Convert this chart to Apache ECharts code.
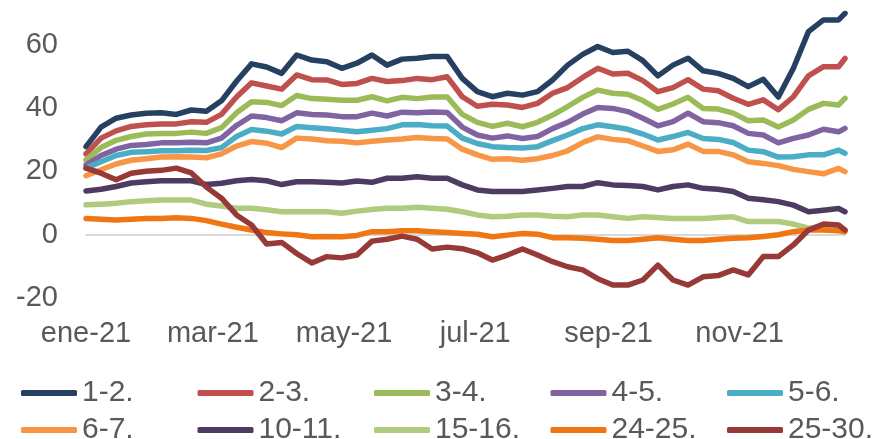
<!DOCTYPE html>
<html>
<head>
<meta charset="utf-8">
<script src="https://cdn.jsdelivr.net/npm/echarts@6/dist/echarts.min.js"></script>
<style>
html,body{margin:0;padding:0;background:#fff;}
#chart{width:879px;height:439px;}
</style>
</head>
<body>
<div id="chart"></div>
<script>
// Weekly observation dates (2021)
const dates = [
 '2021-01-01','2021-01-08','2021-01-15','2021-01-22','2021-01-29',
 '2021-02-05','2021-02-12','2021-02-19','2021-02-26',
 '2021-03-05','2021-03-12','2021-03-19','2021-03-26',
 '2021-04-02','2021-04-09','2021-04-16','2021-04-23','2021-04-30',
 '2021-05-07','2021-05-14','2021-05-21','2021-05-28',
 '2021-06-04','2021-06-11','2021-06-18','2021-06-25',
 '2021-07-02','2021-07-09','2021-07-16','2021-07-23','2021-07-30',
 '2021-08-06','2021-08-13','2021-08-20','2021-08-27',
 '2021-09-03','2021-09-10','2021-09-17','2021-09-24',
 '2021-10-01','2021-10-08','2021-10-15','2021-10-22','2021-10-29',
 '2021-11-05','2021-11-12','2021-11-19','2021-11-26',
 '2021-12-03','2021-12-10','2021-12-17','2021-12-20'
];

const seriesNames = ['1-2.','2-3.','3-4.','4-5.','5-6.','6-7.','10-11.','15-16.','24-25.','25-30.'];

const s12 = [27.8,34,36.8,37.8,38.4,38.5,38,39.4,39,42.3,48.5,54,53,51,56.8,55.2,54.7,52.6,54.2,56.8,53.6,55.5,55.8,56.3,56.3,49.4,45.2,43.6,44.7,44.1,45.2,48.9,53.6,57,59.5,57.6,58,55,50.2,53.6,55.8,51.8,51,49.4,46.8,49.1,43.5,52.6,64.2,67.9,67.9,70];
const s23 = [25.5,30.5,32.8,34.2,34.7,35,35,35.7,35.5,38,43.5,48,47,46,50.5,49,48.9,47.5,47.8,49.4,48.4,48.7,49.4,49,49.9,43.6,40.6,41.2,41,40.2,41.5,44.7,46.5,49.7,52.6,50.8,51,48.7,45.2,46.5,49,46,45.5,43.1,41.2,42.6,39.5,43.6,50.2,53.1,53.1,55.7];
const s34 = [23.6,27.5,29.8,31,31.8,32,32,32.4,32,33.8,38.5,42,41.8,40.8,44,43,42.8,42.5,42.5,43.6,42.3,43.4,43,43.5,43.5,38,35.5,34.2,35.2,34.1,35.5,37.8,40.5,43.4,45.7,44.7,44.4,42.4,39.6,41.3,43.4,39.9,39.7,38.4,36,36.2,34,36.2,39.6,41.5,41,43.1];
const s45 = [22,25,27,28.2,28.5,29,29,29.2,29,30.5,34.5,37.5,37,36,38.5,38,37.8,37.3,37.3,38.4,37.5,38.7,38.5,38.8,38.6,34,31.5,30.5,31.2,30.4,31,33.5,35.5,38.1,40.2,39.9,38.9,36.8,34.4,35.7,38.4,35.7,35.4,34.4,32,31.5,29,30.4,31.5,33.3,32.5,33.6];
const s56 = [21,23,25,26,26.2,26.5,26.5,26.7,26.6,27.5,31,33.2,32.7,31.8,34.2,33.8,33.5,33,32.5,33,33.5,34.7,34.8,34.4,34.3,30.5,28.8,27.8,27.5,27.4,27.8,29.7,31.5,33.5,34.7,34.1,33.3,31.8,29.9,31,32.3,30.4,30.1,29.1,26.7,26.2,24.5,24.6,25.2,25.2,26.7,25.7];
const s67 = [18.6,20.5,22.3,23.5,24,24.5,24.6,24.5,24.3,25.5,28,29.4,28.9,27.5,30.5,30.2,29.7,29.5,29,29.5,29.9,30.2,30.7,30.4,30.2,27,25.2,23.8,24,23.5,24,25,26.5,29.1,30.9,30.1,29.7,28,26.3,26.8,28.6,26.3,26.3,25.2,23,22.5,21.8,20.6,19.9,19.2,20.9,19.9];
const s1011 = [13.8,14.3,15.2,16.3,16.7,17,17,17,15.8,16.2,17,17.4,17,15.8,16.7,16.7,16.5,16.3,16.9,16.5,17.8,17.8,18.3,17.8,17.8,15.7,14.1,13.6,13.6,13.6,14.1,14.6,15.2,15.2,16.4,15.7,15.5,15.2,14.1,15.2,15.7,14.6,14.3,13.6,11.5,11,10.4,9.3,7.2,7.7,8.2,7.2];
const s1516 = [9.4,9.6,9.9,10.4,10.7,10.9,10.9,10.9,9.6,9,8.3,8.3,7.8,7.2,7.2,7.2,7.2,6.7,7.4,7.9,8.3,8.3,8.6,8.3,8,7.2,6.2,5.6,5.8,6.2,6.2,5.8,5.6,6.2,6.2,5.6,5.1,5.6,5.4,5.1,5.1,5.1,5.4,5.6,4.1,4.1,4.1,3.3,2,2.5,2.5,1.5];
const s2425 = [5.1,4.8,4.6,4.8,5.1,5.1,5.3,5.1,4.4,3.3,2.3,1.4,0.6,0.2,-0.1,-0.7,-0.6,-0.7,-0.3,0.9,0.9,1.2,1.2,0.9,0.6,0.3,0.1,-0.7,-0.2,0.3,0.1,-1,-1,-1.2,-1.5,-1.9,-1.9,-1.5,-1,-1.5,-1.9,-1.9,-1.5,-1.2,-1,-0.6,-0.1,0.9,1.4,1.4,1.2,0.9];
const s2530 = [21,19.4,17.3,19.4,20,20.3,21,19.5,15,11.5,6.2,3,-3,-2.5,-6,-9,-7,-7.4,-6.5,-2.1,-1.5,-0.5,-1.5,-4.6,-4,-4.5,-5.8,-8.1,-6.5,-4.6,-6.5,-8.6,-10.2,-11.2,-14,-16,-16,-14.4,-9.7,-14.4,-16,-13.4,-13,-11.2,-12.8,-7,-7,-3.3,1.4,3.3,3,1.4];

const seriesValues = [s12,s23,s34,s45,s56,s67,s1011,s1516,s2425,s2530];
const seriesColors = ['#254061','#C0504D','#9BBB59','#8064A2','#4BACC6','#F79646','#4D3B62','#AECB7E','#EF7612','#973A37'];

// X tick labels
const xTickDates = ['2021-01-01','2021-03-01','2021-05-01','2021-07-01','2021-09-01','2021-11-01'];
const xTickLabels = ['ene-21','mar-21','may-21','jul-21','sep-21','nov-21'];
const xStart = '2021-01-01';
const xEnd = '2021-12-20';

// Y ticks
const yMin = -20, yMax = 70, yStep = 20;

function ts(s){ const p = s.split('-').map(Number); return new Date(p[0], p[1]-1, p[2]).getTime(); }
const tickTs = xTickDates.map(ts);

const textColor = '#595959';
const font = 'Liberation Sans, Arial, sans-serif';

const series = seriesNames.map((name, i) => ({
  name: name,
  type: 'line',
  xAxisIndex: 0,
  data: dates.map((d, j) => [ts(d), seriesValues[i][j]]),
  showSymbol: false,
  symbol: 'none',
  smooth: false,
  lineStyle: { width: 5.5, color: seriesColors[i], join: 'round', cap: 'round' },
  itemStyle: { color: seriesColors[i] },
  emphasis: { disabled: true }
}));

// Legend: 2 rows x 5 columns, one legend component per entry
const legends = seriesNames.map((name, i) => ({
  left: 16 + 176.5 * (i % 5),
  top: i < 5 ? 373 : 410,
  orient: 'horizontal',
  icon: 'roundRect',
  itemWidth: 56,
  itemHeight: 6,
  data: [name],
  textStyle: { color: textColor, fontSize: 30, fontFamily: font },
  selectedMode: false
}));

const chart = echarts.init(document.getElementById('chart'));
chart.setOption({
  animation: false,
  backgroundColor: '#fff',
  grid: { left: 86, right: 34, top: 13.3, bottom: 439 - 297.7, containLabel: false },
  legend: legends,
  xAxis: [
    {
      type: 'value',
      min: ts(xStart), max: ts(xEnd),
      axisLine: { onZero: true, lineStyle: { color: '#D9D9D9', width: 2 } },
      axisTick: { show: false },
      axisLabel: { show: false },
      splitLine: { show: false }
    },
    {
      type: 'value',
      position: 'bottom',
      min: ts(xStart), max: ts(xEnd),
      axisLine: { show: false, onZero: false },
      axisTick: { show: false },
      splitLine: { show: false },
      axisLabel: {
        show: true,
        customValues: tickTs,
        color: textColor, fontSize: 29, fontFamily: font, margin: 22,
        hideOverlap: false,
        formatter: function (v) {
          const i = tickTs.indexOf(v);
          return i >= 0 ? xTickLabels[i] : '';
        }
      }
    }
  ],
  yAxis: {
    type: 'value',
    min: yMin, max: yMax, interval: yStep,
    axisLine: { show: false },
    axisTick: { show: false },
    splitLine: { show: false },
    axisLabel: {
      color: textColor, fontSize: 29, fontFamily: font, margin: 28,
      formatter: function (v) { return v > 60 ? '' : String(v); }
    }
  },
  series: series
});
</script>
</body>
</html>
